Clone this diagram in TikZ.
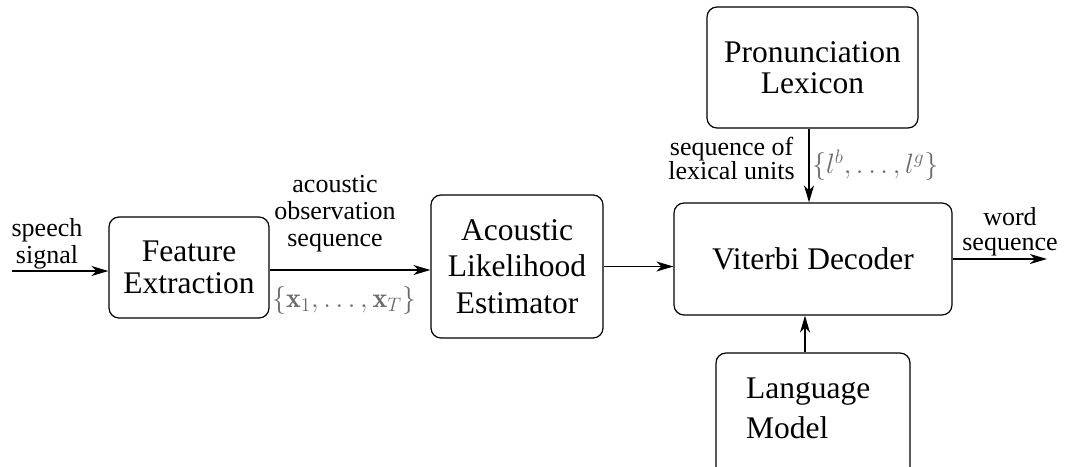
\documentclass[tikz,border=0pt]{standalone}
\usepackage{fontspec}
\newfontfamily\timesfont{Liberation Serif}
\usetikzlibrary{arrows.meta}
\definecolor{mathgrey}{gray}{0.42}
% math set at 20.74pt and enlarged to about 28pt
\newcommand{\bigmath}[1]{\scalebox{1.35}{\fontsize{20.74}{24}\selectfont$#1$}}
\tikzset{
  blk/.style={draw, rounded corners=10pt, line width=1.2pt, inner sep=0pt,
    align=center, font=\timesfont\fontsize{31.5}{34}\selectfont},
  lbl/.style={inner sep=0pt, align=center, font=\timesfont\fontsize{26}{27}\selectfont},
  mlbl/.style={inner sep=0pt, text=mathgrey},
  arr/.style={line width=1.2pt, -{Stealth[length=17pt,width=10pt,inset=5pt]}},
}
\begin{document}
\begin{tikzpicture}[x=1pt, y=-1pt]
\clip (0,0) rectangle (1067,466);

% processing blocks
\node[blk, minimum width=160pt, minimum height=101pt,
      font=\timesfont\fontsize{31.5}{32}\selectfont] (fe) at (189,267.5) {Feature\\Extraction};
\node[blk, minimum width=172pt, minimum height=143pt,
      font=\timesfont\fontsize{31.5}{36.5}\selectfont] (ale) at (517,266.5) {Acoustic\\Likelihood\\Estimator};
\node[blk, minimum width=278pt, minimum height=112pt] (vd) at (813,259) {Viterbi Decoder};
\node[blk, minimum width=211pt, minimum height=121pt,
      font=\timesfont\fontsize{31.5}{31}\selectfont] (lex) at (812.5,67.5) {Pronunciation\\Lexicon};
\node[blk, minimum width=194pt, minimum height=130pt] (lm) at (813,418) {};
\node[inner sep=0pt, align=left, anchor=west,
      font=\timesfont\fontsize{31.5}{40}\selectfont] (lmtext) at (746,408) {Language\\Model};

% signal ends
\coordinate (in) at (12,271);
\coordinate (out) at (1047,259);

% connectors
\draw[arr] (in) -- (in -| fe.west);
\draw[arr] ([yshift=-2.5pt]fe.east) -- ([yshift=-2.5pt]fe.east -| ale.west);
\draw[arr] (ale.east) -- (ale.east -| vd.west);
\draw[arr] (vd.east) -- (out);
\draw[arr] ([xshift=-3.5pt]lex.south) -- ([xshift=-3.5pt]lex.south |- vd.north);
\draw[arr] ([xshift=-8pt]lm.north) -- ([xshift=-8pt]lm.north |- vd.south);

% labels
\node[lbl, anchor=south] (lin) at (47,269) {speech\\signal};
\node[lbl, anchor=south] (lobs) at (335,252) {acoustic\\observation\\sequence};
\node[mlbl] (mobs) at (344,300) {\bigmath{\{\mathbf{x}_1,\ldots,\mathbf{x}_T\}}};
\node[lbl, anchor=south east, font=\timesfont\fontsize{26}{24.5}\selectfont] (llex) at (795,180) {sequence of\\lexical units};
\node[mlbl, anchor=west] (mlex) at (812,165) {\bigmath{\{l^b,\ldots,l^g\}}};
\node[lbl, anchor=south, font=\timesfont\fontsize{26}{25}\selectfont] (lout) at (1010,256) {word\\sequence};
\end{tikzpicture}
\end{document}
